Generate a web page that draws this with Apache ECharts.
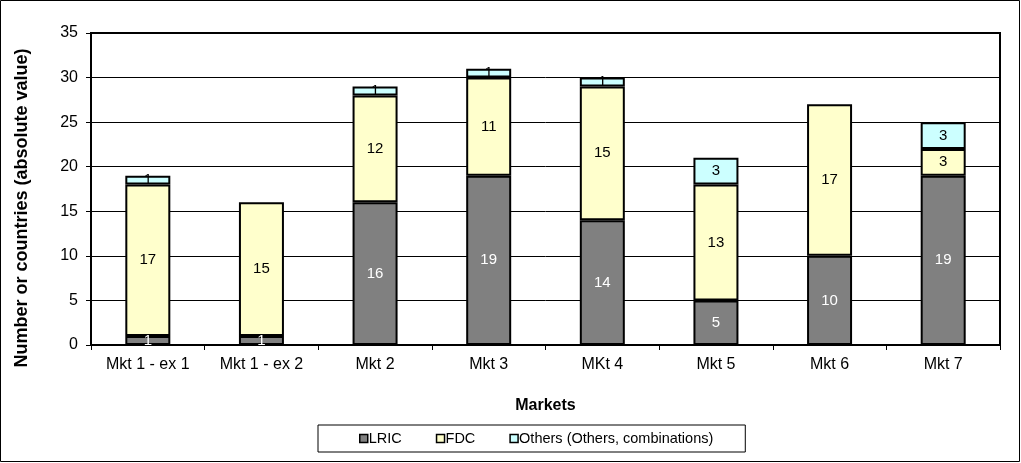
<!DOCTYPE html>
<html>
<head>
<meta charset="utf-8">
<script src="https://cdn.jsdelivr.net/npm/echarts@6/dist/echarts.min.js"></script>
<style>
  html, body { margin: 0; padding: 0; background: #fff; }
  #chart { width: 1021px; height: 463px; }
</style>
</head>
<body>
<div id="chart"></div>
<script>
const categories = ["Mkt 1 - ex 1", "Mkt 1 - ex 2", "Mkt 2", "Mkt 3", "MKt 4", "Mkt 5", "Mkt 6", "Mkt 7"];
const lric = [1, 1, 16, 19, 14, 5, 10, 19];
const fdc = [17, 15, 12, 11, 15, 13, 17, 3];
const others = [1, 0, 1, 1, 1, 3, 0, 3];

const font = "Liberation Sans, Arial, sans-serif";

function seriesOf(name, data, color, labelColor) {
  return {
    name: name,
    type: "bar",
    stack: "total",
    barWidth: 45,
    data: data.map(v => (v === 0 ? null : v)),
    itemStyle: { color: color, borderColor: "#000", borderWidth: 2 },
    label: {
      show: true,
      position: "inside",
      color: labelColor,
      fontFamily: font,
      fontSize: 15
    }
  };
}

const chart = echarts.init(document.getElementById("chart"));
chart.setOption({
  animation: false,
  textStyle: { fontFamily: font },
  grid: { left: 91, right: 21, top: 33, bottom: 118, show: true, borderColor: "#000", borderWidth: 2, backgroundColor: "#fff" },
  graphic: [
    {
      type: "rect",
      shape: { x: 0.5, y: 0.5, width: 1019, height: 461 },
      style: { fill: "none", stroke: "#000", lineWidth: 1 },
      silent: true
    },
    {
      // y axis title, sits a little lower than the axis centre
      type: "text",
      x: 22,
      y: 208,
      rotation: Math.PI / 2,
      style: {
        text: "Number or countries (absolute value)",
        font: "bold 18px " + font,
        fill: "#000",
        align: "center",
        verticalAlign: "middle"
      },
      silent: true
    }
  ],
  legend: {
    top: 425,
    left: 318,
    padding: [6, 32, 6, 41],
    borderColor: "#000",
    borderWidth: 1,
    icon: "rect",
    itemWidth: 8,
    itemHeight: 8,
    itemGap: 34,
    itemStyle: { borderColor: "#000", borderWidth: 1.5 },
    textStyle: { fontFamily: font, fontSize: 14.5, color: "#000", padding: [0, 0, 0, -4] },
    data: ["LRIC", "FDC", "Others (Others, combinations)"]
  },
  xAxis: {
    type: "category",
    data: categories,
    name: "Markets",
    nameLocation: "middle",
    nameGap: 53,
    nameTextStyle: { fontWeight: "bold", fontSize: 16, color: "#000" },
    axisLine: { lineStyle: { color: "#000", width: 2 } },
    axisTick: { show: true, length: 5, lineStyle: { color: "#000" } },
    axisLabel: { color: "#000", fontSize: 16, margin: 12 }
  },
  yAxis: {
    type: "value",
    min: 0,
    max: 35,
    interval: 5,
    axisLine: { show: true, lineStyle: { color: "#000", width: 2 } },
    axisTick: { show: true, length: 5, lineStyle: { color: "#000" } },
    axisLabel: { color: "#000", fontSize: 16, margin: 13 },
    splitLine: { lineStyle: { color: "#000", width: 1 } }
  },
  series: [
    seriesOf("LRIC", lric, "#808080", "#fff"),
    seriesOf("FDC", fdc, "#FFFFCC", "#000"),
    seriesOf("Others (Others, combinations)", others, "#CCFFFF", "#000")
  ]
});
</script>
</body>
</html>
